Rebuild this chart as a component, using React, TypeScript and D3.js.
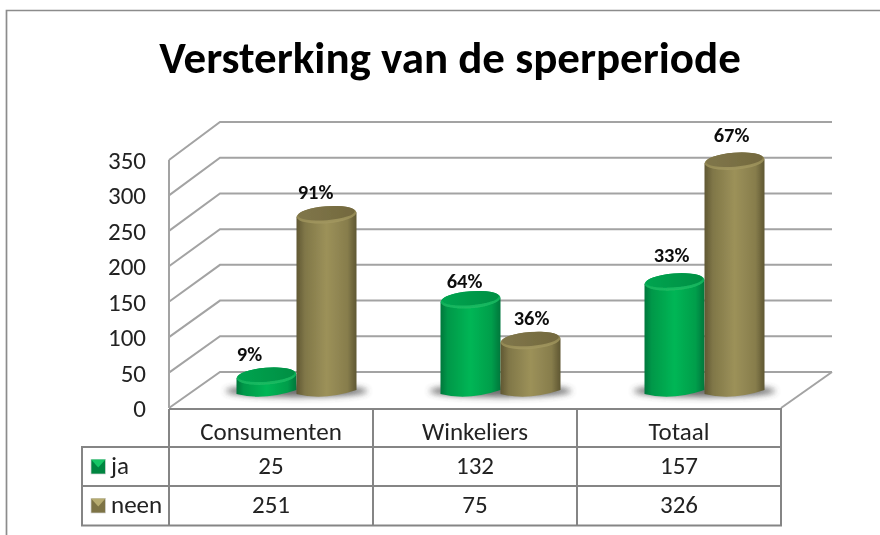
import React from "react";
import * as d3 from "d3";

const titleText = "Versterking van de sperperiode";
const categories = ["Consumenten", "Winkeliers", "Totaal"];
const seriesNames = ["ja", "neen"];
const jaValues = [25, 132, 157];
const neenValues = [251, 75, 326];
const jaPercent = ["9%", "64%", "33%"];
const neenPercent = ["91%", "36%", "67%"];
const yTicks = [0, 50, 100, 150, 200, 250, 300, 350];

// hand-placed label nudges of the original chart: [dx, dy] from the top of each cylinder
const jaLabelNudge = [[-17, -15], [-6, -12], [-3, -20]];
const neenLabelNudge = [[-11, -16], [1, -15], [-3, -19]];

const FONT = "Carlito, Lato, 'Open Sans', sans-serif";
const GRID = "#a3a3a3";
const TABLE = "#858585";
const TEXT = "#222";

const frontLeft = 169, frontRight = 781, depthX = 51;
const x = d3.scaleBand<string>().domain(categories).range([frontLeft, frontRight]);
const xSeries = d3.scaleBand<string>().domain(seriesNames).range([0, 120]);
const yFront = d3.scaleLinear().domain([0, 350]).range([408, 160]);
const yBack = d3.scaleLinear().domain([0, 350]).range([372, 122]);
const yBar = d3.scaleLinear().domain([0, 350]).range([394, 144]);
const baseY = 389;
const TILT = -4.5;

function Cylinder({ cx, value, kind }: { cx: number; value: number; kind: "ja" | "neen" }) {
  const rx = xSeries.bandwidth() / 2;
  const ry = 8.5;
  const top = yBar(value);
  const body = d3.path();
  body.moveTo(cx - rx, top + 2);
  body.lineTo(cx - rx, baseY + 5);
  body.quadraticCurveTo(cx - rx * 0.1, baseY + 12, cx + rx, baseY + 1);
  body.lineTo(cx + rx, top - 2);
  body.closePath();
  return (
    <g>
      <path d={body.toString()} fill={`url(#body-${kind})`} />
      <g transform={`rotate(${TILT} ${cx} ${top})`}>
        <ellipse cx={cx} cy={top} rx={rx} ry={ry} fill={`url(#rim-${kind})`} />
        <ellipse cx={cx} cy={top - 1.4} rx={rx - 1.5} ry={ry - 1.6} fill={`url(#top-${kind})`} />
      </g>
    </g>
  );
}

export default function App() {
  const rows = [
    { name: "ja", values: jaValues, kind: "ja" as const, labels: jaPercent, nudge: jaLabelNudge },
    { name: "neen", values: neenValues, kind: "neen" as const, labels: neenPercent, nudge: neenLabelNudge },
  ];
  const rowTops = [447, 486];
  const rowH = 39;
  const colEdges = [...categories.map((c) => x(c)!), frontRight];
  const tableLeft = 82, tableBottom = 525.5, headerTop = 409;

  return (
    <svg width={880} height={535} viewBox="0 0 880 535"
      style={{ position: "fixed", left: 0, top: 0, background: "#fff", fontFamily: FONT }}>
      <defs>
        <linearGradient id="body-ja" x1="0" x2="1" y1="0" y2="0">
          <stop offset="0" stopColor="#00773c" /><stop offset="0.12" stopColor="#009849" />
          <stop offset="0.5" stopColor="#00b655" /><stop offset="0.85" stopColor="#009e4b" />
          <stop offset="1" stopColor="#00773c" />
        </linearGradient>
        <linearGradient id="body-neen" x1="0" x2="1" y1="0" y2="0">
          <stop offset="0" stopColor="#5f5732" /><stop offset="0.14" stopColor="#807748" />
          <stop offset="0.5" stopColor="#9c9159" /><stop offset="0.85" stopColor="#877d4c" />
          <stop offset="1" stopColor="#5f5732" />
        </linearGradient>
        <linearGradient id="rim-ja" x1="0" x2="0" y1="0" y2="1">
          <stop offset="0" stopColor="#00a04e" /><stop offset="1" stopColor="#1cbb62" />
        </linearGradient>
        <linearGradient id="rim-neen" x1="0" x2="0" y1="0" y2="1">
          <stop offset="0" stopColor="#7d7344" /><stop offset="1" stopColor="#a2975f" />
        </linearGradient>
        <linearGradient id="top-ja" x1="0" x2="1" y1="0" y2="0">
          <stop offset="0" stopColor="#00a450" /><stop offset="1" stopColor="#008f43" />
        </linearGradient>
        <linearGradient id="top-neen" x1="0" x2="1" y1="0" y2="0">
          <stop offset="0" stopColor="#80764a" /><stop offset="1" stopColor="#73693e" />
        </linearGradient>
        <filter id="soft" x="-5%" y="-5%" width="110%" height="110%">
          <feGaussianBlur stdDeviation="0.5" />
        </filter>
        <filter id="shadow" x="-30%" y="-150%" width="160%" height="400%">
          <feGaussianBlur stdDeviation="3" />
        </filter>
      </defs>

      <g filter="url(#soft)">
        {/* outer frame */}
        <path d="M880 10.5 H6.5 V535" fill="none" stroke="#8c8c8c" strokeWidth={1.7} />

        <text x={450} y={73} textAnchor="middle" fontSize={45} fontWeight={700} fill="#000">
          {titleText}
        </text>

        {/* walls and gridlines */}
        {yTicks.map((t) => (
          <path key={t} fill="none" stroke={GRID} strokeWidth={2}
            d={`M${frontLeft} ${yFront(t)} L${frontLeft + depthX} ${yBack(t)} H${frontRight + depthX}`} />
        ))}
        <path d={`M${frontLeft} ${yFront(350)} V${yFront(0)}`} stroke={GRID} strokeWidth={2} fill="none" />
        <path d={`M${frontRight} ${yFront(0)} L${frontRight + depthX} ${yBack(0)}`} stroke={GRID} strokeWidth={2} fill="none" />

        {/* y axis labels */}
        {yTicks.map((t) => (
          <text key={t} x={146} y={yFront(t) + 9} textAnchor="end" fontSize={25} fill={TEXT}>{t}</text>
        ))}

        {/* floor shadows */}
        {categories.map((c) => {
          const cx = x(c)! + x.bandwidth() / 2 + depthX / 2;
          return (
            <ellipse key={c} cx={cx} cy={391} rx={71} ry={6} fill="#444" opacity={0.8} filter="url(#shadow)" />
          );
        })}

        {/* cylinders */}
        {categories.map((c, i) => {
          const groupLeft = x(c)! + x.bandwidth() / 2 + depthX / 2 - 60;
          return (
            <g key={c}>
              {rows.map((r) => (
                <Cylinder key={r.name} kind={r.kind} value={r.values[i]}
                  cx={groupLeft + xSeries(r.name)! + xSeries.bandwidth() / 2} />
              ))}
            </g>
          );
        })}

        {/* value labels */}
        {categories.map((c, i) => {
          const groupLeft = x(c)! + x.bandwidth() / 2 + depthX / 2 - 60;
          return rows.map((r) => (
            <text key={c + r.name} x={groupLeft + xSeries(r.name)! + xSeries.bandwidth() / 2 + r.nudge[i][0]}
              y={yBar(r.values[i]) + r.nudge[i][1]} textAnchor="middle" fontSize={20.5} fontWeight={700} fill="#111">
              {r.labels[i]}
            </text>
          ));
        })}

        {/* data table */}
        <g fill="none" stroke={TABLE} strokeWidth={2}>
          <path d={`M${frontLeft} ${headerTop} H${frontRight} V${tableBottom} H${tableLeft} V${rowTops[0]} H${frontRight}`} />
          <path d={`M${tableLeft} ${rowTops[1]} H${frontRight}`} />
          {colEdges.slice(0, -1).map((e) => (
            <path key={e} d={`M${e} ${headerTop} V${tableBottom}`} />
          ))}
        </g>
        {categories.map((c) => (
          <text key={c} x={x(c)! + x.bandwidth() / 2} y={440} textAnchor="middle" fontSize={25} fill={TEXT}>{c}</text>
        ))}
        {rows.map((r, ri) => {
          const ky = rowTops[ri] + 12.5;
          const dark = r.kind === "ja" ? "#00853f" : "#7d7344";
          const light = r.kind === "ja" ? "#12c565" : "#b6ab70";
          return (
            <g key={r.name}>
              <rect x={91} y={ky} width={14.5} height={14.5} fill={dark} stroke="#d5d5d5" strokeWidth={0.7} />
              <path d={`M91 ${ky} H105.5 L98.25 ${ky + 8} Z`} fill={light} />
              <text x={111} y={rowTops[ri] + rowH / 2 + 7} fontSize={25} fill={TEXT}>{r.name}</text>
              {r.values.map((v, i) => (
                <text key={i} x={x(categories[i])! + x.bandwidth() / 2} y={rowTops[ri] + rowH / 2 + 7}
                  textAnchor="middle" fontSize={25} fill={TEXT}>{v}</text>
              ))}
            </g>
          );
        })}
      </g>
    </svg>
  );
}
